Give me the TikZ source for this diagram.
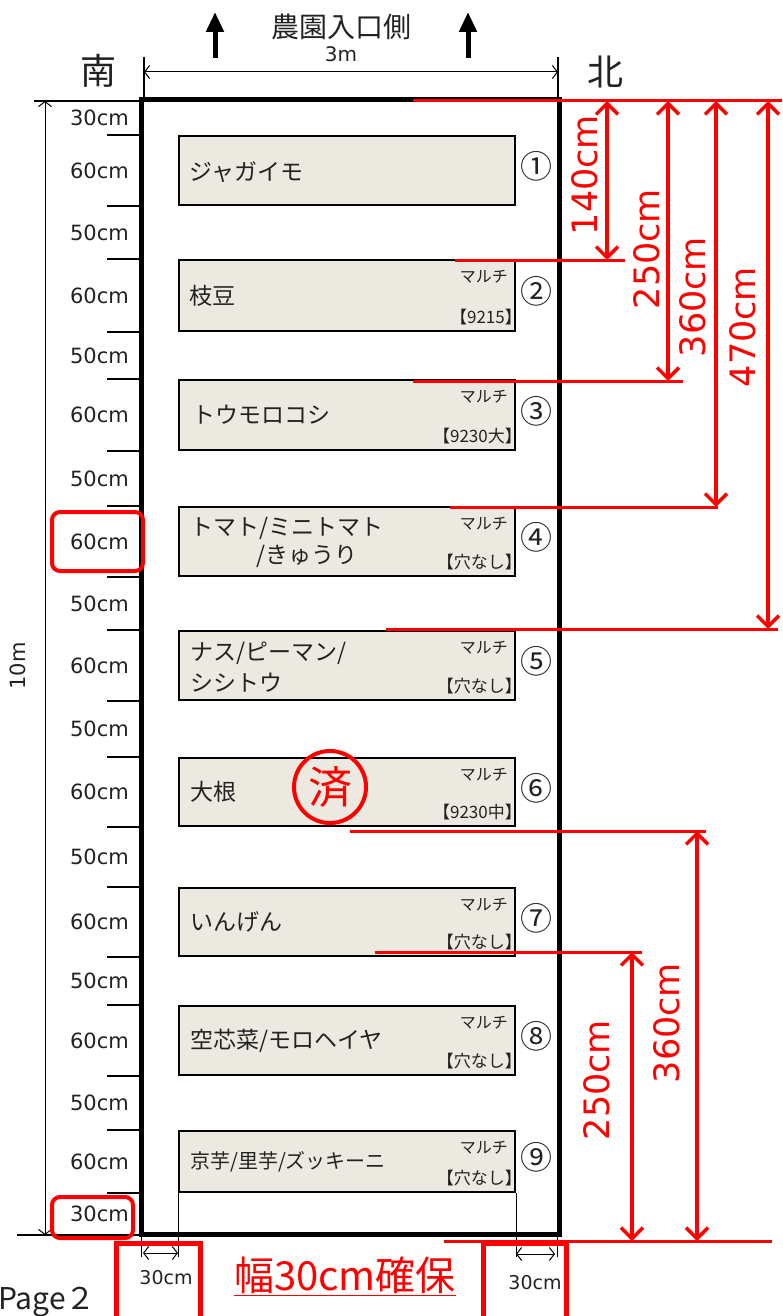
\documentclass[tikz,border=0pt]{standalone}
\usepackage{fontspec}
\setmainfont{Noto Sans CJK JP}
\newfontfamily\latn{DejaVu Sans}
\usepackage{tikz}
\usetikzlibrary{arrows.meta}
\usetikzlibrary{positioning}
\usetikzlibrary{calc}
\definecolor{terre}{HTML}{ECEAE0}
\definecolor{encre}{HTML}{222222}
\newcommand{\fs}[1]{\fontsize{#1}{#1}\selectfont}
\tikzset{
  txt/.style = {inner sep=0pt, text=encre},
  sidelbl/.style = {txt, anchor=east, font=\latn\fs{21}},% cotes a gauche
  bedbox/.style = {draw=black, fill=terre, line width=2pt, inner sep=0pt,
    minimum width=336, minimum height=69},% planche
  cropname/.style = {txt, anchor=west, font=\fs{23}},
  mulchtag/.style = {txt, anchor=east, font=\fs{16}},
  holetag/.style = {txt, anchor=east, font=\fs{17}},
  bednum/.style = {txt, anchor=west, font=\fs{32}},
  marque/.style = {line width=1.2pt},
  cote/.style = {line width=1pt,
    {Straight Barb[length=5pt,width=13pt]}-{Straight Barb[length=5pt,width=13pt]}},
  entryarrow/.style = {line width=5pt, -{Triangle[length=20pt,width=17pt]}},
  redline/.style = {red, line width=3pt},
  reddim/.style = {red, line width=3.5pt,
    {Straight Barb[length=11pt,width=22pt]}-{Straight Barb[length=11pt,width=22pt]}},
  redlbl/.style = {red, inner sep=0pt, rotate=90, font=\latn\fs{35}},
  redbox/.style = {red, line width=4pt, rounded corners=8pt},% encadre
  sumi/.style = {circle, draw=red, line width=4pt, text=red, inner sep=0pt,
    minimum size=72, font=\fs{44}}
}

\begin{document}
\begin{tikzpicture}[x=1pt,y=-1pt]
\useasboundingbox (0,0) rectangle (782,1316);

% parcelle
\coordinate (fNW) at (141,100);
\coordinate (fSE) at (559,1234);
\draw[line width=5pt] (fNW) rectangle (fSE);

\foreach \i/\y/\h in {1/170.5/69,2/295.5/71,3/415/70,4/541.5/69,5/665.5/69,
    6/792/68,7/922/68,8/1040.5/69,9/1161.5/61}
  \node[bedbox, minimum height=\h] (b\i) at (347,\y) {};

% entree et orientation
\node[txt, font=\fs{28}] (entree) at (341,27) {農園入口側};
\node[txt, font=\latn\fs{20}] (w3) at (341,54) {3m};
\node[txt, font=\fs{36}] (sud) at (98,71) {南};
\node[txt, font=\fs{36}] (nord) at (605,72) {北};
\coordinate (t1) at (144,57);
\coordinate (t2) at (558,57);
\draw[line width=1.2pt] (t1) -- (t1 |- fNW);
\draw[line width=1.2pt] (t2) -- (t2 |- fNW);
\draw[cote] ([yshift=-15pt]t1) -- ([yshift=-15pt]t2);
\coordinate (a1) at (215,58);
\coordinate (a2) at (468,58);
\draw[entryarrow] (a1) -- ++(0,-46);
\draw[entryarrow] (a2) -- ++(0,-46);

% cote 10m
\coordinate (g1) at (34,101);
\coordinate (g2) at (17,1235);
\coordinate (v1) at (45,101);
\coordinate (v2) at (45,1235);
\draw[line width=2.5pt] (g1) -- (g1 -| fNW);
\draw[line width=2.5pt] (g2) -- (g2 -| fNW);
\draw[cote] (v1) -- (v2);
\node[txt, rotate=90, font=\latn\fs{21}] (dix) at (18,666) {10m};

\coordinate (k1) at (107,0);
\coordinate (k2) at (140,0);
\coordinate (lx) at (129,0);
\foreach \i in {1,...,9} {
  \draw[marque] (k1 |- b\i.north) -- (k2 |- b\i.north);
  \draw[marque] (k1 |- b\i.south) -- (k2 |- b\i.south);
  \node[sidelbl] (s\i) at (lx |- b\i) {60cm};
}
\node[sidelbl] (s0) at ($(lx |- fNW)!0.5!(lx |- b1.north)$) {30cm};
\foreach \i [evaluate=\i as \j using int(\i+1)] in {1,...,8}
  \node[sidelbl] (h\i) at ($(lx |- b\i.south)!0.5!(lx |- b\j.north)$) {50cm};
\node[sidelbl] (s10) at ($(lx |- b9.south)!0.5!(lx |- fSE)$) {30cm};

% contenu des planches
\foreach \i/\n in {1/①,2/②,3/③,4/④,5/⑤,6/⑥,7/⑦,8/⑧,9/⑨}
  \node[bednum] (n\i) at ([xshift=4pt,yshift=4pt]b\i.east) {\n};
\node[cropname] (c1) at ([xshift=11pt,yshift=-2pt]b1.west) {ジャガイモ};
\node[cropname] (c2) at ([xshift=11pt]b2.west) {枝豆};
\node[cropname] (c3) at ([xshift=14pt]b3.west) {トウモロコシ};
\node[cropname] (c4) at ([xshift=12pt,yshift=13pt]b4.west) {トマト/ミニトマト};
\node[cropname] (c4b) at ([xshift=78pt,yshift=-15pt]b4.west) {/きゅうり};
\node[cropname] (c5) at ([xshift=12pt,yshift=12pt]b5.west) {ナス/ピーマン/};
\node[cropname] (c5b) at ([xshift=12pt,yshift=-17pt]b5.west) {シシトウ};
\node[cropname] (c6) at ([xshift=12pt]b6.west) {大根};
\node[cropname] (c7) at ([xshift=12pt]b7.west) {いんげん};
\node[cropname] (c8) at ([xshift=12pt]b8.west) {空芯菜/モロヘイヤ};
\node[cropname, font=\fs{20}] (c9) at ([xshift=12pt]b9.west) {京芋/里芋/ズッキーニ};
\foreach \i/\t in {2/【9215】,3/【9230大】,4/【穴なし】,5/【穴なし】,6/【9230中】,
    7/【穴なし】,8/【穴なし】,9/【穴なし】} {
  \node[mulchtag] (m\i) at ([xshift=-8pt,yshift=-18pt]b\i.north east) {マルチ};
  \node[holetag] (p\i) at ([xshift=6pt,yshift=15pt]b\i.south east) {\t};
}
\node[sumi] (z6) at (330,787) {済};

% bas : passage de 30cm
\coordinate (bas) at (0,1257);
\draw[line width=1pt] (fNW |- fSE) -- (fNW |- bas);
\draw[line width=1pt] (b9.south west) -- (b9.south west |- bas);
\draw[line width=1pt] (b9.south east) -- (b9.south east |- bas);
\draw[line width=1pt] (557,1234) coordinate (e1) -- (e1 |- bas);
\coordinate (d1) at (143,1253);
\coordinate (d2) at (555,1254);
\draw[cote] (d1) -- (d1 -| b9.south west);
\draw[cote] (d2 -| b9.south east) -- (d2);
\node[txt, font=\latn\fs{19}] (w30a) at (166,1278) {30cm};
\node[txt, font=\latn\fs{19}] (w30b) at (535,1283) {30cm};
\node[txt, text=red, font=\fs{40}] (haba) at (345,1276) {\underline{幅30cm確保}};
\node[txt, anchor=base west, font=\fs{30}] (page) at (-2,1309) {Page２};

% cotes rouges
\foreach \n/\y/\xa/\xb in {0/101/413/782,1/260/455/625,2/381/413/683,3/507/450/718,
    4/629/386/778,5/831/350/706,6/952/375/642,7/1241/444/772} {
  \coordinate (la\n) at (\xa,\y);
  \coordinate (lb\n) at (\xb,\y);
  \draw[redline] (la\n) -- (lb\n);
}
\foreach \x/\a/\b/\t/\lx/\ly in {607/0/1/140cm/585/175,668/0/2/250cm/647/249,
    716/0/3/360cm/693/297,768/0/4/470cm/743/327,632/6/7/250cm/597/1080,
    697/5/7/360cm/667/1023} {
  \coordinate (ax) at (\x,0);
  \draw[reddim] (ax |- la\a) -- (ax |- la\b);
  \node[redlbl] (r\x) at (\lx,\ly) {\t};
}
\draw[redbox] (52,512) rectangle (143,571);
\draw[redbox] (52,1197) rectangle (133,1238);
\draw[red, line width=5pt] (116,1330) -- (116,1243) -- (200,1243) -- (200,1330);
\draw[red, line width=5pt] (483,1330) -- (483,1243) -- (566,1243) -- (566,1330);
\end{tikzpicture}
\end{document}
